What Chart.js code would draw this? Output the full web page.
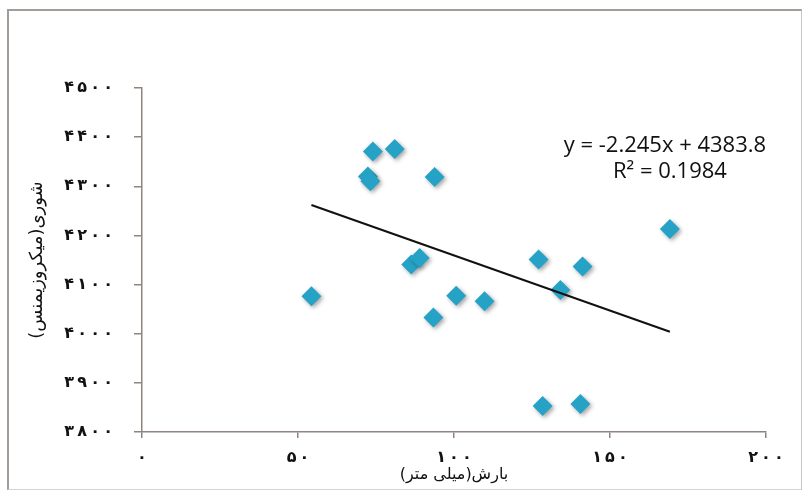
<!DOCTYPE html>
<html>
<head>
<meta charset="utf-8">
<script src="https://cdn.jsdelivr.net/npm/chart.js@4"></script>
<style>
  html, body { margin: 0; padding: 0; background: #fff; }
  #wrap { position: relative; width: 803px; height: 494px; }
  #frame { position: absolute; left: 7px; top: 9px; width: 795px; height: 481px;
           border-left: 2px solid #a29c99; border-top: 2px solid #a29c99; border-right: 1px solid #c9c4c2;
           border-bottom: 1px solid #d8d4d2; box-sizing: border-box; }
  canvas { position: absolute; left: 0; top: 0; }
</style>
</head>
<body>
<div id="wrap">
  <div id="frame"></div>
  <canvas id="bieuDo" width="803" height="494"></canvas>
</div>
<script>
// du lieu doc tu hinh: luong mua (mm) va do man (microsiemens)
var luongMua = [54.3, 72.4, 73.2, 74.0, 81.0, 93.8, 86.3, 89.0, 93.4, 100.7, 109.8, 127.1, 134.1, 141.2, 169.2, 128.4, 140.5];
var doMan    = [4076, 4320, 4310, 4371, 4376, 4319, 4141, 4154, 4033, 4077, 4066, 4151, 4089, 4137, 4213, 3853, 3857];

// duong xu huong (theo phuong trinh tren hinh)
var heSoGoc = -2.245;
var heSoTuDo = 4383.8;
var nhanPhuongTrinh = 'y = -2.245x + 4383.8';
var nhanR2 = 'R² = 0.1984';

var tieuDeX = 'بارش(میلی متر)';
var tieuDeY = 'شوری(میکروزیمنس)';

var xMin = 0, xMax = 200, xBuoc = 50;
var yMin = 3800, yMax = 4500, yBuoc = 100;

var mauDiem = '#27a2c7';
var mauTruc = '#8f8580';

// doi so sang chu so Ba Tu, cach nhau mot khoang mong
function soBaTu(v) {
	var chu = '۰۱۲۳۴۵۶۷۸۹';
	return String(v).split('').map(d => chu[+d]).join('\u2009');
}

var diem = luongMua.map((x, i) => ({ x: x, y: doMan[i] }));
var xDau = Math.min.apply(null, luongMua);
var xCuoi = Math.max.apply(null, luongMua);
var duongXuHuong = [
	{ x: xDau, y: heSoGoc * xDau + heSoTuDo },
	{ x: xCuoi, y: heSoGoc * xCuoi + heSoTuDo }
];

// bong do cho cac diem
var bongDo = {
	id: 'bongDo',
	beforeDatasetDraw(chart, args) {
		if (args.index != 1) return;
		var ctx = chart.ctx;
		ctx.save();
		ctx.shadowColor = 'rgba(0,0,0,0.35)';
		ctx.shadowBlur = 4;
		ctx.shadowOffsetX = 2;
		ctx.shadowOffsetY = 2;
	},
	afterDatasetDraw(chart, args) {
		if (args.index != 1) return;
		chart.ctx.restore();
	}
};

// nhan phuong trinh
var nhanPT = {
	id: 'nhanPT',
	afterDraw(chart) {
		var ctx = chart.ctx;
		var sx = chart.scales.x, sy = chart.scales.y;
		ctx.save();
		ctx.fillStyle = '#111';
		ctx.font = '22px "Open Sans"';
		ctx.textAlign = 'center';
		ctx.textBaseline = 'middle';
		var cx = sx.getPixelForValue(167.6);
		ctx.fillText(nhanPhuongTrinh, cx, sy.getPixelForValue(4382));
		ctx.fillText(nhanR2, cx + 5, sy.getPixelForValue(4329));
		ctx.restore();
	}
};

var config = {
	type: 'scatter',
	data: {
		datasets: [
			{
				type: 'line',
				label: 'xu huong',
				data: duongXuHuong,
				borderColor: '#111',
				borderWidth: 2,
				pointRadius: 0,
				fill: false
			},
			{
				label: 'diem',
				data: diem,
				pointStyle: 'rectRot',
				pointRadius: 10,
				pointHoverRadius: 10,
				backgroundColor: mauDiem,
				borderColor: mauDiem,
				borderWidth: 0
			}
		]
	},
	options: {
		responsive: false,
		animation: false,
		layout: { padding: { top: 88, right: 37, left: 0, bottom: 0 } },
		plugins: {
			legend: { display: false },
			tooltip: { enabled: false }
		},
		scales: {
			x: {
				type: 'linear',
				min: xMin,
				max: xMax,
				afterFit: (s) => { s.height = 62; },
				border: { color: mauTruc, width: 1.5 },
				grid: { drawOnChartArea: false, tickLength: 6, color: mauTruc, lineWidth: 1.5 },
				ticks: {
					stepSize: xBuoc,
					padding: 10,
					color: '#111',
					font: { family: 'DejaVu Sans', size: 16, weight: 'bold' },
					callback: (v) => soBaTu(v)
				},
				title: {
					display: true,
					text: tieuDeX,
					color: '#111',
					font: { family: 'DejaVu Sans', size: 16 },
					padding: { top: 0, bottom: 10 }
				}
			},
			y: {
				type: 'linear',
				min: yMin,
				max: yMax,
				afterFit: (s) => { s.width = 142; },
				border: { color: mauTruc, width: 1.5 },
				grid: { drawOnChartArea: false, tickLength: 8, color: mauTruc, lineWidth: 1.5 },
				ticks: {
					stepSize: yBuoc,
					padding: 21,
					color: '#111',
					font: { family: 'DejaVu Sans', size: 16, weight: 'bold' },
					callback: (v) => soBaTu(v)
				},
				title: {
					display: true,
					text: tieuDeY,
					color: '#111',
					font: { family: 'DejaVu Sans', size: 18 },
					padding: { top: 27, bottom: 0 }
				}
			}
		}
	},
	plugins: [bongDo, nhanPT]
};

var bieuDo = new Chart(document.getElementById('bieuDo').getContext('2d'), config);
</script>
</body>
</html>
